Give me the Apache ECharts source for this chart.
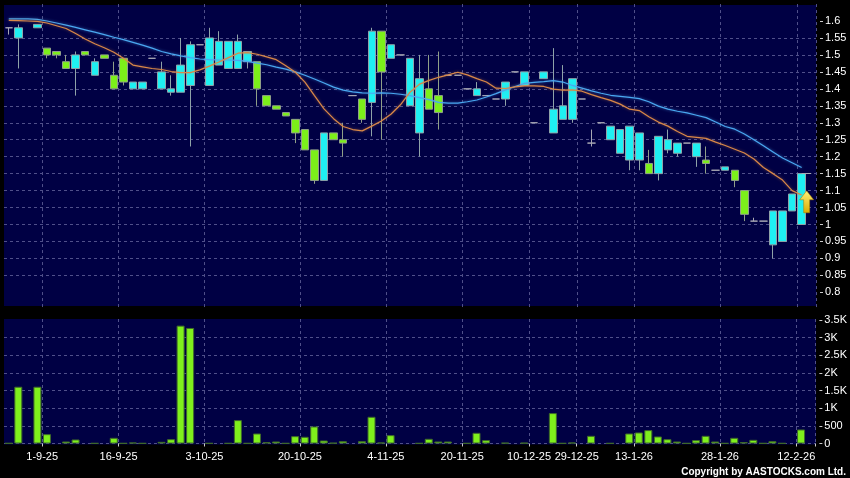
<!DOCTYPE html>
<html><head><meta charset="utf-8">
<script src="https://cdn.jsdelivr.net/npm/echarts@6/dist/echarts.min.js"></script>
<style>html,body{margin:0;padding:0;background:#000;overflow:hidden}#c{width:850px;height:478px}</style>
</head><body><div id="c"></div>
<script>
// ---- data (one slot per trading session) ----
const openP = [1.58,1.55,null,1.58,1.52,1.51,1.48,1.46,1.51,1.44, 1.50,1.44,1.49,1.40,1.40,1.49,1.40,1.39,1.39,1.41, 1.53,1.41,1.47,1.46,1.46,1.48,1.48,1.38,1.35,1.33, 1.31,1.28,1.22,1.13,1.27,1.25,1.38,1.37,1.36,1.57, 1.49,1.50,1.35,1.27,1.40,1.38,1.44,1.44,1.40,1.38, 1.38,1.37,1.37,1.45,1.41,1.30,1.43,1.27,1.31,1.31, 1.37,1.24,1.30,1.25,1.21,1.19,1.19,1.18,1.15,1.22, 1.21,1.24,1.20,1.19,1.16,1.16,1.16,1.10,1.01,1.01, 0.94,0.95,1.04,1.00,null];
const closeP = [1.58,1.58,null,1.59,1.50,1.50,1.46,1.50,1.50,1.48, 1.49,1.40,1.42,1.42,1.42,1.49,1.45,1.40,1.47,1.53, 1.53,1.55,1.54,1.54,1.54,1.51,1.40,1.35,1.34,1.32, 1.27,1.22,1.13,1.27,1.25,1.24,1.38,1.31,1.57,1.45, 1.53,1.50,1.49,1.43,1.34,1.33,1.44,1.44,1.40,1.40, 1.38,1.37,1.42,1.45,1.45,1.30,1.45,1.34,1.35,1.43, 1.37,1.24,1.30,1.29,1.28,1.29,1.27,1.15,1.26,1.25, 1.24,1.24,1.24,1.18,1.16,1.17,1.13,1.03,1.01,1.01, 1.04,1.04,1.09,1.15,null];
const highP = [1.58,1.59,null,1.59,1.52,1.51,1.50,1.51,1.51,1.49, 1.50,1.48,1.49,1.42,1.42,1.49,1.48,1.44,1.55,1.54, 1.53,1.58,1.57,1.54,1.56,1.51,1.48,1.38,1.35,1.33, 1.31,1.28,1.22,1.27,1.27,1.30,1.38,1.37,1.58,1.57, 1.53,1.50,1.49,1.50,1.50,1.51,1.44,1.44,1.40,1.42, 1.38,1.37,1.42,1.45,1.45,1.30,1.45,1.52,1.47,1.43, 1.37,1.28,1.30,1.29,1.28,1.29,1.27,1.22,1.26,1.28, 1.24,1.24,1.24,1.23,1.16,1.17,1.16,1.10,1.02,1.01, 1.04,1.04,1.09,1.15,null];
const lowP = [1.56,1.46,null,1.58,1.49,1.49,1.46,1.38,1.50,1.44, 1.49,1.40,1.41,1.40,1.40,1.49,1.40,1.38,1.39,1.23, 1.53,1.41,1.47,1.46,1.46,1.46,1.35,1.35,1.34,1.32, 1.24,1.22,1.12,1.13,1.25,1.20,1.38,1.30,1.26,1.25, 1.49,1.50,1.35,1.20,1.34,1.28,1.44,1.44,1.40,1.38, 1.38,1.37,1.35,1.45,1.41,1.30,1.43,1.27,1.31,1.30, 1.37,1.23,1.30,1.25,1.21,1.16,1.16,1.15,1.13,1.21, 1.20,1.24,1.17,1.15,1.16,1.16,1.11,1.01,1.01,1.01, 0.90,0.95,1.04,1.00,null];
const volume = [10,1610,null,1610,265,null,57,114,null,8, null,161,8,28,8,null,47,123,3343,3277, null,8,null,8,663,8,284,38,57,8, 208,190,483,85,19,66,null,66,757,28, 237,null,null,8,133,57,57,null,8,303, 95,null,20,null,20,null,null,862,8,28, null,218,null,8,null,284,313,379,199,123, 57,8,95,218,57,8,161,38,104,8, 66,8,null,398,null];
const maLong = [1.606,1.606,1.606,1.605,1.600,1.594,1.588,1.581,1.574,1.567, 1.560,1.552,1.545,1.537,1.529,1.520,1.510,1.503,1.497,1.492, 1.488,1.486,1.485,1.485,1.484,1.481,1.476,1.471,1.464,1.458, 1.450,1.440,1.429,1.417,1.405,1.396,1.391,1.388,1.387,1.388, 1.387,1.384,1.380,1.374,1.368,1.360,1.358,1.358,1.362,1.367, 1.376,1.386,1.397,1.407,1.416,1.419,1.421,1.424,1.420,1.410, 1.402,1.394,1.387,1.381,1.378,1.375,1.371,1.362,1.349,1.340, 1.334,1.329,1.322,1.315,1.302,1.289,1.281,1.267,1.250,1.232, 1.214,1.196,1.182,1.168,null];
const maShort = [1.602,1.601,1.600,1.599,1.594,1.586,1.578,1.563,1.547,1.533, 1.521,1.508,1.490,1.470,1.465,1.460,1.457,1.451,1.448,1.448, 1.456,1.467,1.479,1.492,1.505,1.507,1.502,1.494,1.486,1.468, 1.449,1.420,1.380,1.341,1.312,1.289,1.280,1.276,1.290,1.305, 1.325,1.353,1.390,1.414,1.425,1.434,1.441,1.449,1.441,1.430, 1.420,1.402,1.401,1.406,1.409,1.409,1.407,1.399,1.396,1.397, 1.393,1.383,1.374,1.366,1.355,1.340,1.336,1.318,1.302,1.290, 1.274,1.260,1.257,1.254,1.243,1.233,1.222,1.211,1.193,1.168, 1.150,1.131,1.100,1.087,null];
const labelIdx = [4,12,21,31,40,48,55,60,66,75,83];
const labelText = ['1-9-25','16-9-25','3-10-25','20-10-25','4-11-25','20-11-25','10-12-25','29-12-25','13-1-26','28-1-26','12-2-26'];
const priceTicks = [0.8,0.85,0.9,0.95,1,1.05,1.1,1.15,1.2,1.25,1.3,1.35,1.4,1.45,1.5,1.55,1.6];
const volTicks = [0,500,1000,1500,2000,2500,3000,3500];
const lastPrice = 1.15;

// ---- build ----
const categories = openP.map((_, i) => String(i));
const labelMap = {};
labelIdx.forEach((k, j) => { labelMap[k] = labelText[j]; });
const isLab = (i) => labelMap[i] !== undefined;
const candles = openP.map((o, i) => o == null ? ['-','-','-','-'] : [o, closeP[i], lowP[i], highP[i]]);
const vols = volume.map(v => v == null ? '-' : v);
const lastIdx = String(labelIdx[labelIdx.length - 1]);

const FONT = '"Liberation Sans", Arial, sans-serif';
const gridLine = { color: '#50508a', type: [3, 3], width: 1 };
const chart = echarts.init(document.getElementById('c'), null, { renderer: 'canvas' });

const xBase = (gi) => ({
  type: 'category', gridIndex: gi, data: categories, boundaryGap: true,
  axisLine: { show: false },
  splitLine: { show: true, interval: (i) => isLab(i), lineStyle: gridLine }
});

chart.setOption({
  animation: false,
  backgroundColor: '#000',
  graphic: [
    { type: 'rect', z: -10, silent: true, shape: { x: 4, y: 5, width: 812, height: 301 }, style: { fill: '#000044' } },
    { type: 'rect', z: -10, silent: true, shape: { x: 4, y: 319, width: 812, height: 125.5 }, style: { fill: '#000044' } },
    { type: 'text', x: 846, y: 472, silent: true,
      style: { text: 'Copyright by AASTOCKS.com Ltd.', fill: '#ffffff', font: 'bold 10px ' + FONT, align: 'right', verticalAlign: 'middle' } }
  ],
  grid: [
    { left: 4, right: 34, top: 4.04, bottom: 168.7 },
    { left: 4, right: 34, top: 319, bottom: 34.5 }
  ],
  xAxis: [
    Object.assign(xBase(0), { axisTick: { show: false }, axisLabel: { show: false } }),
    Object.assign(xBase(1), {
      offset: 3,
      axisTick: { show: true, length: 3, interval: (i) => isLab(i), lineStyle: { color: '#cccccc' } },
      axisLabel: { show: true, interval: (i) => isLab(i), formatter: (v) => labelMap[+v] || '',
        color: '#ffffff', fontSize: 11, fontFamily: FONT, margin: 5, padding: [0, 9.5, 0, 0] }
    })
  ],
  yAxis: [
    { type: 'value', gridIndex: 0, position: 'right', min: 0.75, max: 1.65, interval: 0.05, offset: 4,
      axisLine: { show: false },
      axisTick: { show: true, length: 3, customValues: priceTicks, lineStyle: { color: '#cccccc' } },
      axisLabel: { show: true, customValues: priceTicks, margin: 5,
        color: '#ffffff', fontSize: 11, fontFamily: FONT, formatter: (v) => String(parseFloat((+v).toFixed(2))) },
      splitLine: { show: true, showMinLine: false, showMaxLine: false, lineStyle: gridLine } },
    { type: 'value', gridIndex: 1, position: 'right', min: 0, max: 3531, interval: 500, offset: 4,
      axisLine: { show: false },
      axisTick: { show: true, length: 3, customValues: volTicks, lineStyle: { color: '#cccccc' } },
      axisLabel: { show: true, customValues: volTicks, margin: 5,
        color: '#ffffff', fontSize: 11, fontFamily: FONT, formatter: (v) => v >= 1000 ? (v / 1000) + 'K' : String(v) },
      splitLine: { show: true, showMaxLine: false, lineStyle: gridLine } }
  ],
  series: [
    { type: 'candlestick', xAxisIndex: 0, yAxisIndex: 0, data: candles, barWidth: 8, z: 2,
      itemStyle: { color: '#1ff0f2', color0: '#7cf01a', borderColor: '#8fa3a8', borderColor0: '#90a088', borderColorDoji: '#a8a8b4', borderWidth: 1 },
      markPoint: {
        silent: true, symbol: 'path://M7,0 L14,9 L10,9 L10,22 L4,22 L4,9 L0,9 Z', symbolSize: [14, 22], symbolOffset: [5, 0],
        label: { show: false },
        itemStyle: { color: new echarts.graphic.LinearGradient(0, 0, 0, 1, [{ offset: 0, color: '#fff27a' }, { offset: 1, color: '#d9aa00' }]), borderColor: '#a07a00', borderWidth: 0.5 },
        data: [{ coord: [lastIdx, 1.067] }]
      },
      markLine: {
        silent: true, symbol: 'none', label: { show: false }, lineStyle: { color: '#a8a8b4', type: 'solid', width: 1 },
        data: [[{ coord: [lastIdx, lastPrice] }, { coord: [String(+lastIdx + 1), lastPrice] }]]
      }
    },
    { type: 'line', xAxisIndex: 0, yAxisIndex: 0, data: maLong, showSymbol: false, z: 3,
      lineStyle: { color: '#4aa8f0', width: 1.2, shadowColor: 'rgba(80,170,255,0.6)', shadowBlur: 3 } },
    { type: 'line', xAxisIndex: 0, yAxisIndex: 0, data: maShort, showSymbol: false, z: 3,
      lineStyle: { color: '#d98848', width: 1.2, shadowColor: 'rgba(230,140,70,0.5)', shadowBlur: 3 } },
    { type: 'bar', xAxisIndex: 1, yAxisIndex: 1, data: vols, barWidth: 8,
      itemStyle: { color: '#7ff01c', borderColor: '#3f6a2a', borderWidth: 1 } }
  ]
});
</script>
</body></html>
